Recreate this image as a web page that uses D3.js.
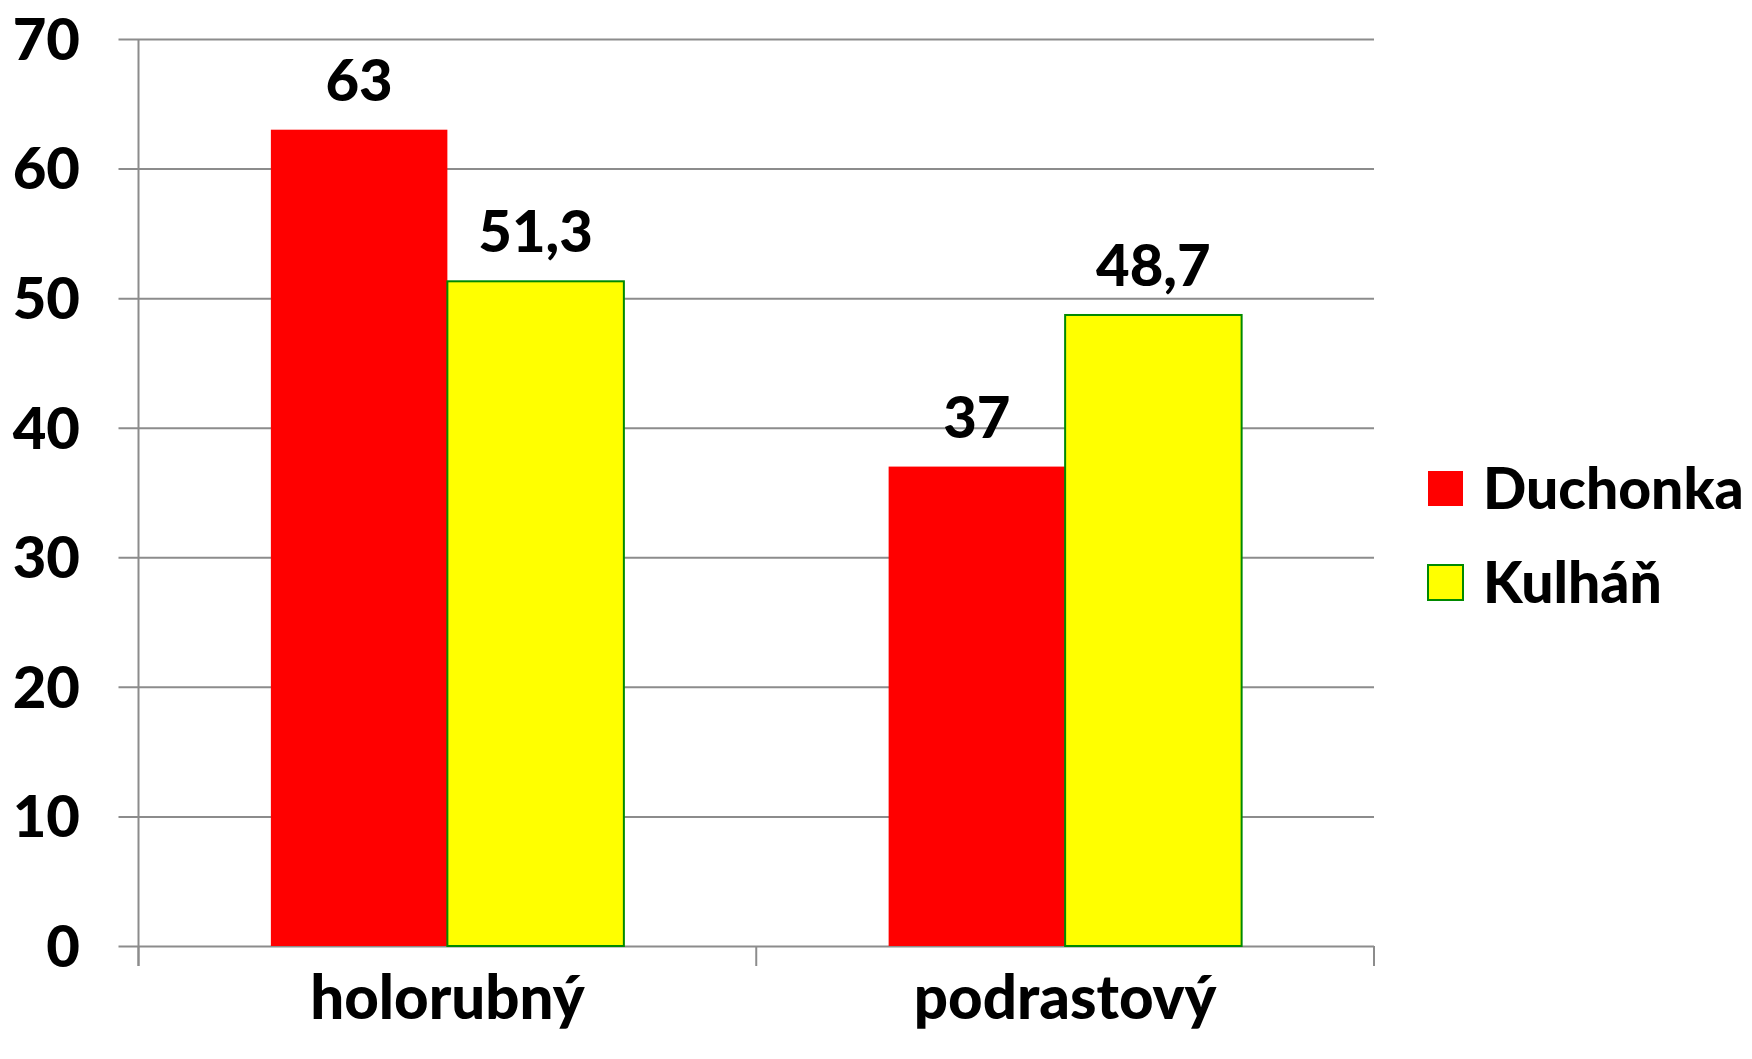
<!DOCTYPE html>
<html>
<head>
<meta charset="utf-8">
<script src="https://cdn.jsdelivr.net/npm/d3@7"></script>
<style>
  body { margin: 0; background: #fff; }
  svg { display: block; font-family: Lato, "Open Sans", sans-serif; font-weight: 900; }
</style>
</head>
<body>
<svg id="chart" width="1752" height="1059"></svg>
<script>
var categories = ["holorubný", "podrastový"];
var seriesNames = ["Duchonka", "Kulháň"];
var duchonka = [63, 37];
var kulhan = [51.3, 48.7];
var yTicks = [0, 10, 20, 30, 40, 50, 60, 70];

var colors = { "Duchonka": "#ff0000", "Kulháň": "#ffff00" };
var strokes = { "Duchonka": "none", "Kulháň": "#008a00" };

var svg = d3.select("#chart");
var plotLeft = 138.5, plotRight = 1374, plotTop = 39, plotBottom = 946;
var gridColor = "#8c8c8c";

var x0 = d3.scaleBand().domain(categories).range([plotLeft, plotRight]).padding(0);
var x1 = d3.scaleBand().domain(seriesNames).range([0, x0.bandwidth()])
    .paddingInner(0).paddingOuter(0.75);
var y = d3.scaleLinear().domain([0, 70]).range([plotBottom, plotTop]);

// gridlines (extend left as outside ticks)
svg.append("g")
    .attr("transform", "translate(" + plotRight + ",0)")
    .call(d3.axisLeft(y).tickValues(yTicks).tickSize(plotRight - plotLeft + 20).tickFormat(""))
    .call(function(g) { g.select(".domain").remove(); })
    .selectAll("line")
    .attr("stroke", gridColor)
    .attr("stroke-width", 2);

// y axis line
svg.append("line")
    .attr("x1", plotLeft).attr("x2", plotLeft)
    .attr("y1", plotTop).attr("y2", plotBottom + 20)
    .attr("stroke", gridColor).attr("stroke-width", 2);

// category ticks
var catEdges = [plotLeft].concat(categories.map(function(c) { return x0(c) + x0.bandwidth(); }));
svg.selectAll(".cattick")
    .data(catEdges)
    .enter().append("line")
    .attr("x1", function(d) { return d; })
    .attr("x2", function(d) { return d; })
    .attr("y1", plotBottom)
    .attr("y2", plotBottom + 20)
    .attr("stroke", gridColor).attr("stroke-width", 2);

// y tick labels
svg.selectAll(".ylab")
    .data(yTicks)
    .enter().append("text")
    .attr("x", 80)
    .attr("y", function(d) { return y(d); })
    .attr("dy", "0.36em")
    .attr("text-anchor", "end")
    .style("font-size", "58px")
    .text(function(d) { return d; });

var rows = [];
categories.forEach(function(c, i) {
    rows.push({ cat: c, series: "Duchonka", value: duchonka[i] });
    rows.push({ cat: c, series: "Kulháň", value: kulhan[i] });
});

svg.selectAll(".bar")
    .data(rows)
    .enter().append("rect")
    .attr("x", function(d) { return x0(d.cat) + x1(d.series); })
    .attr("y", function(d) { return y(d.value); })
    .attr("width", x1.bandwidth())
    .attr("height", function(d) { return y(0) - y(d.value); })
    .attr("fill", function(d) { return colors[d.series]; })
    .attr("stroke", function(d) { return strokes[d.series]; })
    .attr("stroke-width", 2);

// value labels
svg.selectAll(".vlab")
    .data(rows)
    .enter().append("text")
    .attr("x", function(d) { return x0(d.cat) + x1(d.series) + x1.bandwidth() / 2; })
    .attr("y", function(d) { return y(d.value) - 29; })
    .attr("text-anchor", "middle")
    .style("font-size", "58px")
    .text(function(d) { return String(d.value).replace(".", ","); });

// category labels
svg.selectAll(".clab")
    .data(categories)
    .enter().append("text")
    .attr("x", function(d) { return x0(d) + x0.bandwidth() / 2; })
    .attr("y", 1019)
    .attr("text-anchor", "middle")
    .style("font-size", "60px")
    .text(function(d) { return d; });

// legend
var legend = svg.selectAll(".leg")
    .data(seriesNames)
    .enter().append("g")
    .attr("transform", function(d, i) { return "translate(1428," + (488 + i * 94) + ")"; });

legend.append("rect")
    .attr("x", 0).attr("y", -17)
    .attr("width", 35).attr("height", 35)
    .attr("fill", function(d) { return colors[d]; })
    .attr("stroke", function(d) { return strokes[d]; })
    .attr("stroke-width", 2);

legend.append("text")
    .attr("x", 55)
    .attr("y", 0)
    .attr("dy", "0.36em")
    .style("font-size", "57px")
    .text(function(d) { return d; });
</script>
</body>
</html>
